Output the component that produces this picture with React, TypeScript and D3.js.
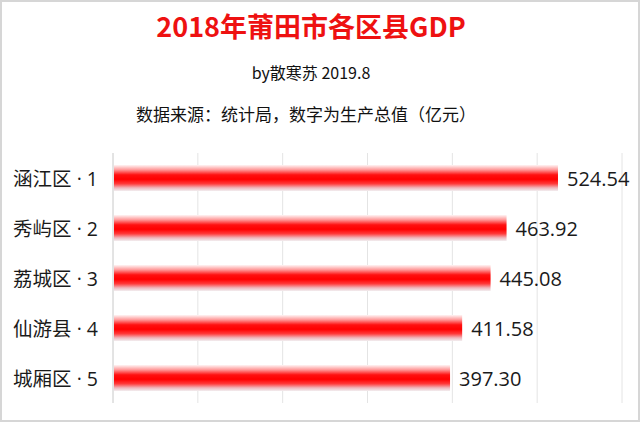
import * as d3 from "d3";

const WIDTH = 640;
const HEIGHT = 422;

const TITLE = "2018年莆田市各区县GDP";
const SUBTITLE = "by散寒苏 2019.8";
const SOURCE = "数据来源：统计局，数字为生产总值（亿元）";

const districts = ["涵江区 · 1", "秀屿区 · 2", "荔城区 · 3", "仙游县 · 4", "城厢区 · 5"];
const gdp = [524.54, 463.92, 445.08, 411.58, 397.3];
const xTicks = [0, 100, 200, 300, 400, 500, 600];

const FONT = "'Noto Sans CJK SC', 'Microsoft YaHei', sans-serif";
const LABEL_FONT = "'Open Sans', 'Noto Sans CJK SC', sans-serif";

const margin = { top: 153, right: 18, bottom: 19, left: 113 };

export default function App() {
  const x = d3
    .scaleLinear()
    .domain([0, 600])
    .range([margin.left, WIDTH - margin.right]);

  const y = d3
    .scaleBand<string>()
    .domain(districts)
    .range([margin.top, HEIGHT - margin.bottom])
    .paddingInner(0.48)
    .paddingOuter(0.24);

  return (
    <div style={{ position: "absolute", left: 0, top: 0 }}>
      <svg width={WIDTH} height={HEIGHT} style={{ display: "block", fontFamily: FONT }}>
        <defs>
          <linearGradient id="barFill" x1="0" y1="0" x2="0" y2="1">
            <stop offset="0%" stopColor="#fff4f4" />
            <stop offset="18%" stopColor="#ff9a9a" />
            <stop offset="38%" stopColor="#ff1010" />
            <stop offset="55%" stopColor="#ff0000" />
            <stop offset="72%" stopColor="#ff3a3a" />
            <stop offset="88%" stopColor="#f0b8be" />
            <stop offset="100%" stopColor="#f2eef0" />
          </linearGradient>
        </defs>
        <rect x={0} y={0} width={WIDTH} height={HEIGHT} fill="#ffffff" />
        <rect
          x={1}
          y={1}
          width={WIDTH - 2}
          height={HEIGHT - 2}
          fill="none"
          stroke="#d6d6d6"
          strokeWidth={2}
        />

        <text x={311} y={25} textAnchor="middle" dominantBaseline="central" fontSize={27} fontWeight={700} fill="#ee1111">
          {TITLE}
        </text>
        <text x={311} y={72} textAnchor="middle" dominantBaseline="central" fontSize={16} fill="#111">
          {SUBTITLE}
        </text>
        <text x={306} y={113} textAnchor="middle" dominantBaseline="central" fontSize={17} fill="#111">
          {SOURCE}
        </text>

        {/* grid */}
        <g>
          {xTicks.map((t) => (
            <line
              key={t}
              x1={x(t)}
              x2={x(t)}
              y1={margin.top}
              y2={HEIGHT - margin.bottom}
              stroke={t === 0 ? "#c8c8c8" : "#e4e4e4"}
              strokeWidth={1}
            />
          ))}
        </g>

        {/* bars */}
        <g>
          {districts.map((d, i) => (
            <rect
              key={d}
              x={x(0) + 1}
              y={y(d)}
              width={x(gdp[i]) - x(0) - 1}
              height={y.bandwidth()}
              fill="url(#barFill)"
            />
          ))}
        </g>

        {/* category labels */}
        <g fontFamily={LABEL_FONT}>
          {districts.map((d) => (
            <text
              key={d}
              x={margin.left - 15}
              y={(y(d) ?? 0) + y.bandwidth() / 2}
              textAnchor="end"
              dominantBaseline="central"
              fontSize={19.5}
              fill="#1a1a1a"
            >
              {d}
            </text>
          ))}
        </g>

        {/* value labels */}
        <g fontFamily={LABEL_FONT}>
          {districts.map((d, i) => (
            <text
              key={d}
              x={x(gdp[i]) + 9}
              y={(y(d) ?? 0) + y.bandwidth() / 2}
              dominantBaseline="central"
              fontSize={20}
              fill="#1a1a1a"
            >
              {gdp[i].toFixed(2)}
            </text>
          ))}
        </g>
      </svg>
    </div>
  );
}
